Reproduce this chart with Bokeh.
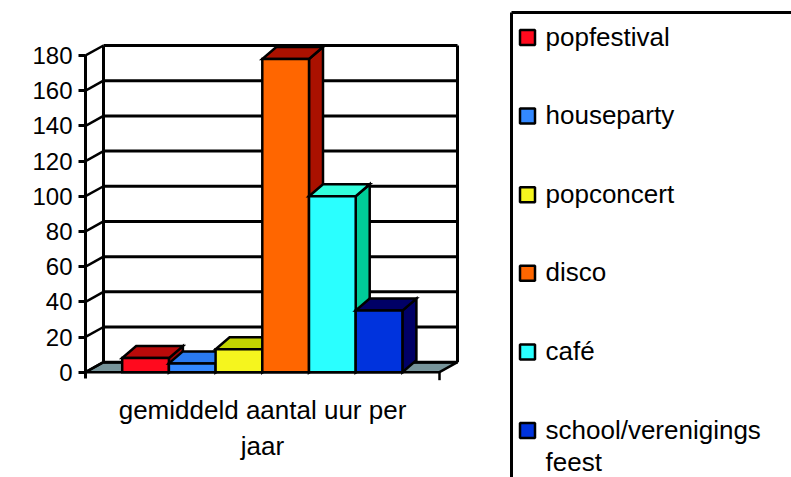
from bokeh.plotting import figure
from bokeh.models import Range1d, LinearAxis, FixedTicker, ColumnDataSource
from bokeh.embed import file_html
from bokeh.resources import INLINE
from bokeh.core.properties import value

# ---------------- data ----------------
series_labels = ["popfestival", "houseparty", "popconcert", "disco", "café",
                 "school/verenigings feest"]
series_values = [8, 5, 13, 178, 100, 35]
category = "gemiddeld aantal uur per jaar"
y_ticks = [0, 20, 40, 60, 80, 100, 120, 140, 160, 180]

front_colors = ["#FF0A1E", "#3388FF", "#F5F51E", "#FF6600", "#2AFFFF", "#0033DD"]
top_colors = ["#B80A0A", "#2A7AF0", "#C2D400", "#AA1100", "#33FFDD", "#000066"]
side_colors = ["#A00000", "#1F5FCC", "#A0B000", "#AA1100", "#00CC99", "#000066"]

# ---------------- layout ----------------
W, H = 791, 477
LEFT = 85                      # frame starts at page x = 85
K = 316.7 / 180.0              # px per unit
Y_END = 371.7 / K
Y_START = Y_END - H / K
FONT = "Liberation Sans"


def dx(page_x):
    return page_x - LEFT


def dy(page_y):
    return Y_END - page_y / K


p = figure(width=W, height=H, output_backend="svg", toolbar_location=None,
           x_range=Range1d(0, W - LEFT), y_range=Range1d(Y_START, Y_END),
           min_border_left=LEFT, min_border_right=0, min_border_top=0,
           min_border_bottom=0, x_axis_location=None, y_axis_location=None,
           outline_line_color=None)
p.grid.visible = False
p.background_fill_color = "white"

# front value axis
ax = LinearAxis(ticker=FixedTicker(ticks=y_ticks), bounds=(-3.6, 180.6))
ax.axis_line_width = 3
ax.axis_line_color = "black"
ax.major_tick_line_width = 3
ax.major_tick_out = 7
ax.major_tick_in = 0
ax.minor_tick_out = 0
ax.minor_tick_in = 0
ax.major_label_text_font = FONT
ax.major_label_text_font_size = "24px"
ax.major_label_text_color = "black"
ax.major_label_standoff = 6
p.add_layout(ax, "left")

# walls / floor
WALL_DX = 18.0
WALL_DY = 10.0 / K
BACK_X1 = 372.0
FLOOR_X1 = 354.0
top_v = max(y_ticks)

p.patch([0, FLOOR_X1, BACK_X1, WALL_DX], [0, 0, WALL_DY, WALL_DY],
        fill_color="#77949A", line_color="black", line_width=2.5)
p.segment(x0=[WALL_DX] * len(y_ticks), y0=[t + WALL_DY for t in y_ticks],
          x1=[BACK_X1] * len(y_ticks), y1=[t + WALL_DY for t in y_ticks],
          line_color="black", line_width=3)
p.segment(x0=[0] * len(y_ticks), y0=y_ticks,
          x1=[WALL_DX] * len(y_ticks), y1=[t + WALL_DY for t in y_ticks],
          line_color="black", line_width=2.5)
p.segment(x0=[WALL_DX, BACK_X1], y0=[WALL_DY, WALL_DY],
          x1=[WALL_DX, BACK_X1], y1=[top_v + WALL_DY, top_v + WALL_DY],
          line_color="black", line_width=3)
p.segment(x0=[FLOOR_X1], y0=[0], x1=[FLOOR_X1], y1=[-8.0 / K],
          line_color="black", line_width=2.5)

# 3D bars
BAR_X0 = 36.7
BAR_W = 46.7
BAR_DX = 14.0
BAR_DY = 12.0 / K
xs, ys, fills = [], [], []
for i, v in enumerate(series_values):
    l = BAR_X0 + i * BAR_W
    r = l + BAR_W
    xs.append([r, r + BAR_DX, r + BAR_DX, r])
    ys.append([0, BAR_DY, v + BAR_DY, v])
    fills.append(side_colors[i])
    xs.append([l, r, r + BAR_DX, l + BAR_DX])
    ys.append([v, v, v + BAR_DY, v + BAR_DY])
    fills.append(top_colors[i])
    xs.append([l, r, r, l])
    ys.append([0, 0, v, v])
    fills.append(front_colors[i])
p.patches(xs="xs", ys="ys", fill_color="fill",
          source=ColumnDataSource(dict(xs=xs, ys=ys, fill=fills)),
          line_color="black", line_width=2.5, line_join="miter")

# category label
cat_text = "\n".join(category.rsplit(" ", 1))
p.text(x=[dx(262)], y=[dy(394)], text=[cat_text], text_align="center",
       text_baseline="top", text_font=value(FONT), text_font_size="26px",
       text_color="black", text_line_height=1.2)

# legend
p.segment(x0=[dx(511), dx(511)], y0=[dy(12), dy(12)],
          x1=[dx(900), dx(511)], y1=[dy(12), dy(600)],
          line_color="black", line_width=3)
LEG_Y0 = 37.0
LEG_STEP = 78.6
leg_y = [LEG_Y0 + i * LEG_STEP for i in range(len(series_labels))]
p.scatter(x=[dx(527)] * len(leg_y), y=[dy(c) for c in leg_y], marker="square",
          size=15, fill_color=front_colors, line_color="black", line_width=2.5)
leg_text = ["\n".join(s.rsplit(" ", 1)) if len(s) > 18 else s for s in series_labels]
p.text(x=[dx(545)] * len(leg_y), y=[dy(c - 16) for c in leg_y], text=leg_text,
       text_align="left", text_baseline="top", text_font=value(FONT),
       text_font_size="26px", text_color="black", text_line_height=1.08)

open("out.html", "w").write(file_html(p, INLINE))
